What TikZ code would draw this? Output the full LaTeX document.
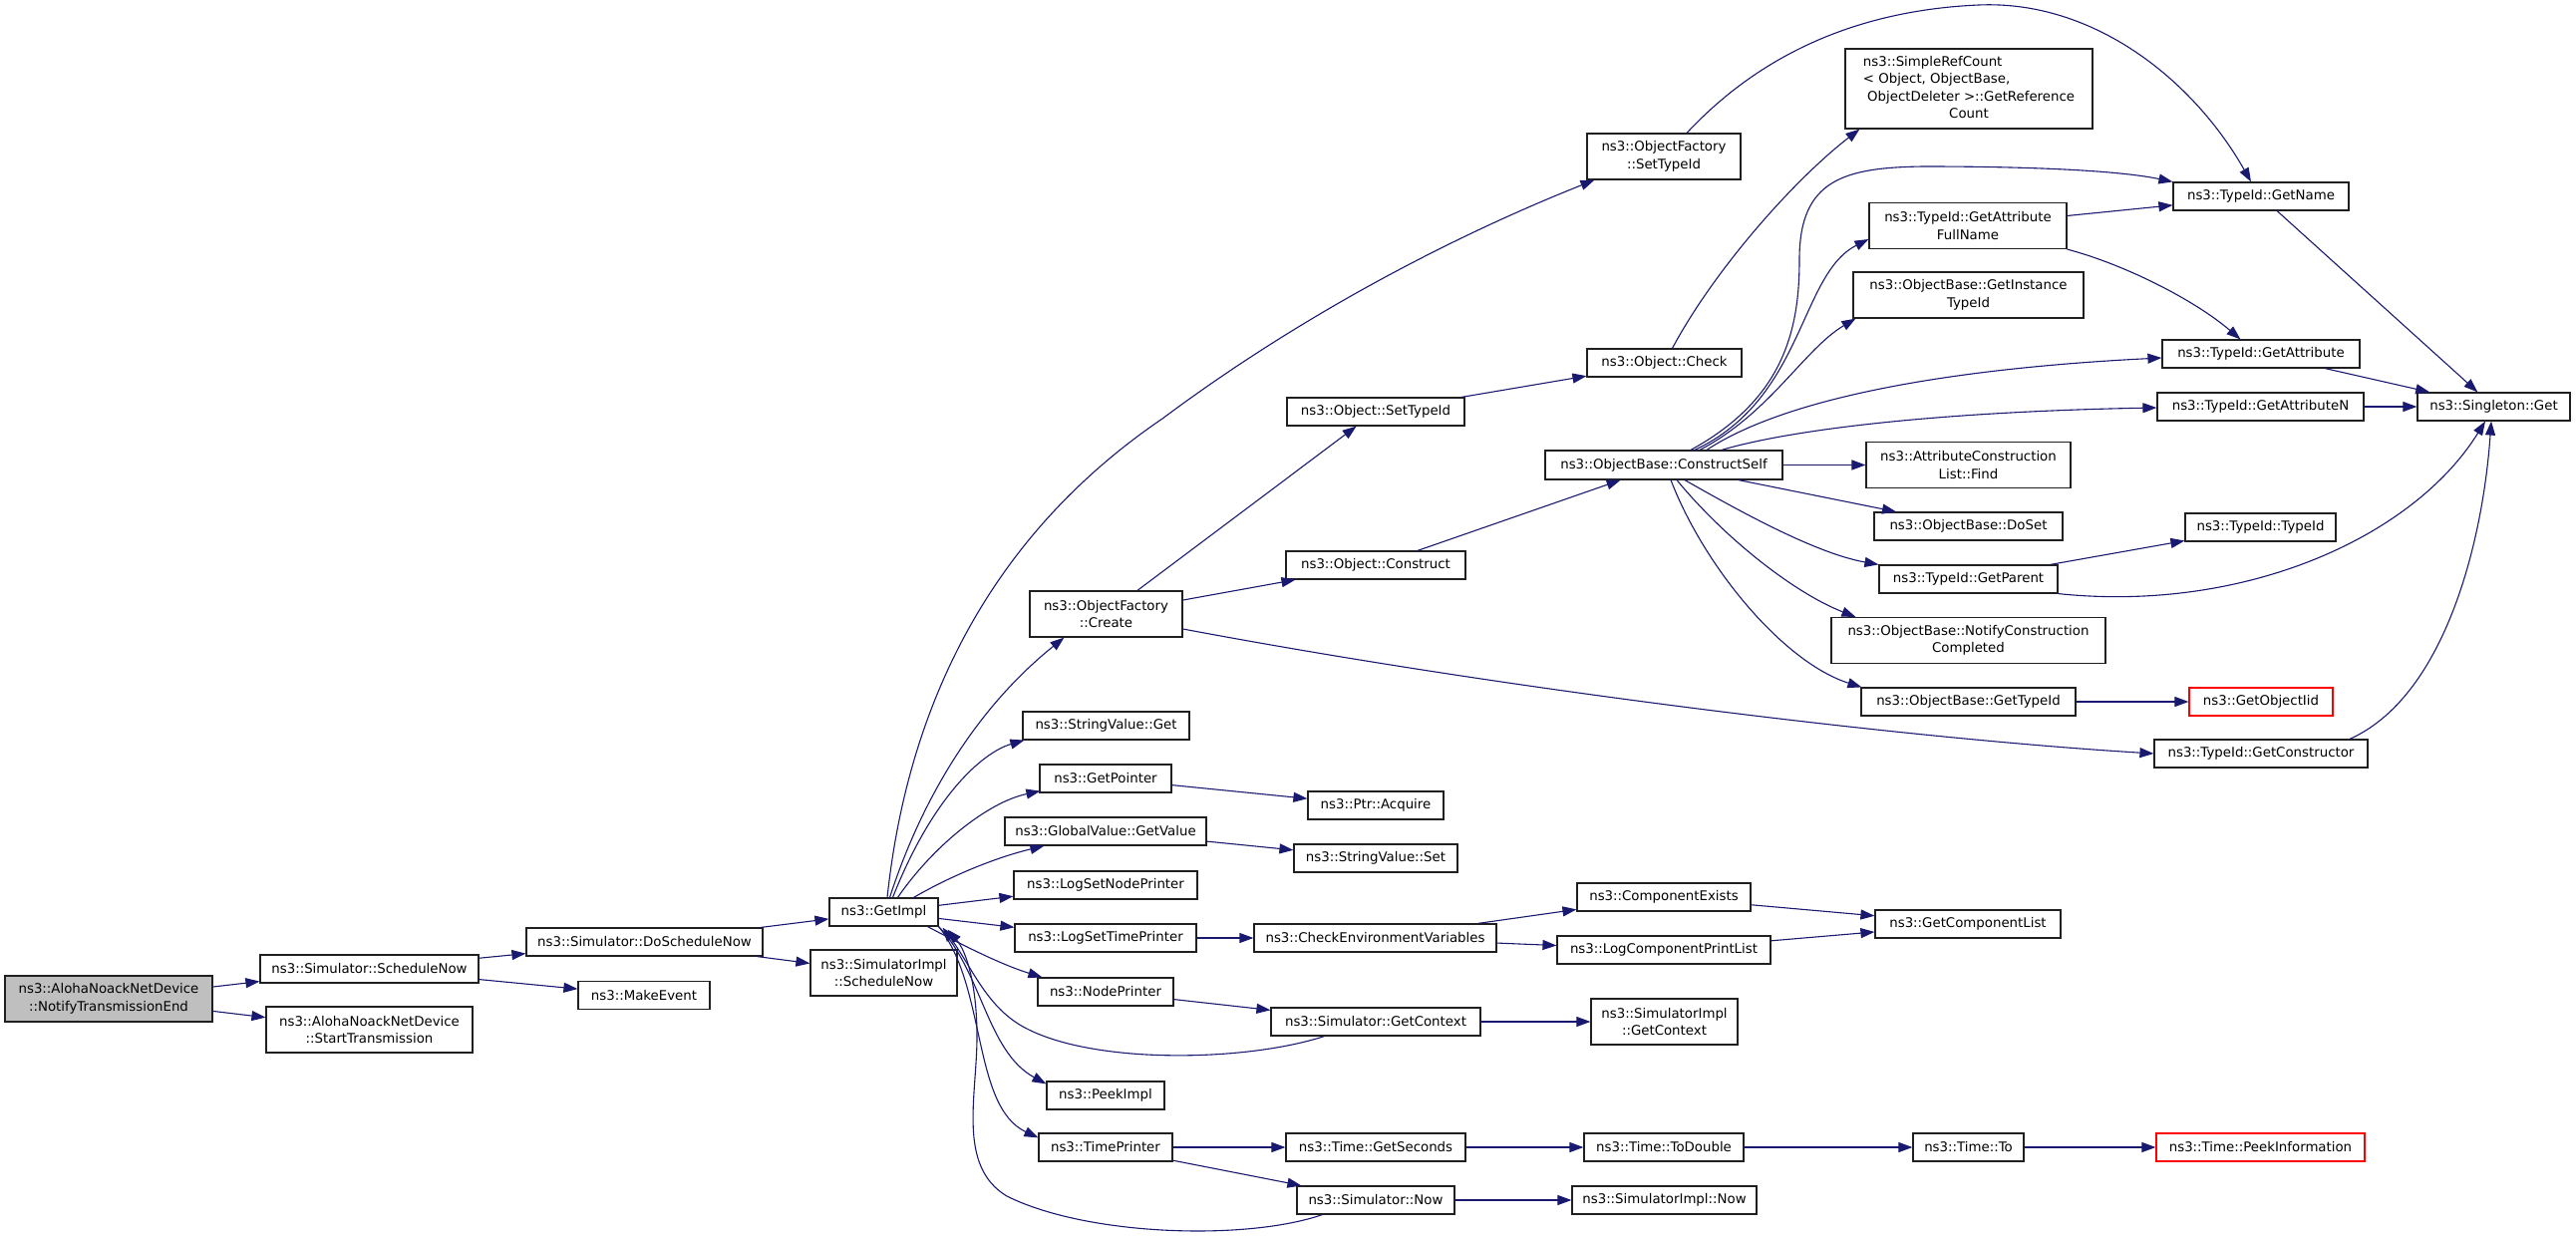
\documentclass[tikz,border=0pt]{standalone}
\usepackage{fontspec}
\newfontfamily\dgfont{DejaVu Sans}
\usetikzlibrary{arrows.meta}
\definecolor{edgeblue}{HTML}{191970}
\definecolor{rootgray}{HTML}{BFBFBF}
\definecolor{boxline}{HTML}{202020}
\newcommand\dgnodefont{\dgfont\fontsize{13.33pt}{17.5pt}\selectfont}
\tikzset{
  fn/.style={draw=boxline, fill=white, line width=1.2pt, inner sep=0pt, align=center,
             minimum height=28pt, font=\dgnodefont, text=black},
  root/.style={fill=rootgray},
  ext/.style={draw=red},
  call/.style={draw=edgeblue, line width=1.1pt, -{Triangle[length=14pt,width=10pt]}},
}
\begin{document}
\begin{tikzpicture}[x=1pt,y=-1pt]
\fill[white] (0,0) rectangle (2584,1241);
\useasboundingbox (0,0) rectangle (2584,1241);

% column 0-3
\node[fn,root,minimum width=208pt,minimum height=46pt] (nte) at (109,1002) {ns3::AlohaNoackNetDevice\\::NotifyTransmissionEnd};
\node[fn,minimum width=219pt] (sn) at (370.5,972) {ns3::Simulator::ScheduleNow};
\node[fn,minimum width=207pt,minimum height=46pt] (st) at (370.5,1033) {ns3::AlohaNoackNetDevice\\::StartTransmission};
\node[fn,minimum width=237pt] (dsn) at (646.5,945) {ns3::Simulator::DoScheduleNow};
\node[fn,minimum width=132pt] (me) at (646,998.5) {ns3::MakeEvent};
\node[fn,minimum width=109pt] (gi) at (886.5,915) {ns3::GetImpl};
\node[fn,minimum width=147pt,minimum height=46pt] (sisn) at (886.5,976) {ns3::SimulatorImpl\\::ScheduleNow};

% column 4
\node[fn,minimum width=153pt,minimum height=46pt] (ofc) at (1109.5,616) {ns3::ObjectFactory\\::Create};
\node[fn,minimum width=167pt] (svg) at (1109.5,728) {ns3::StringValue::Get};
\node[fn,minimum width=132pt] (gp) at (1109,781) {ns3::GetPointer};
\node[fn,minimum width=202pt] (gv) at (1109,834) {ns3::GlobalValue::GetValue};
\node[fn,minimum width=184pt] (lsnp) at (1109,888) {ns3::LogSetNodePrinter};
\node[fn,minimum width=182pt] (lstp) at (1109,941) {ns3::LogSetTimePrinter};
\node[fn,minimum width=136pt] (np) at (1109,995) {ns3::NodePrinter};
\node[fn,minimum width=118pt] (pi) at (1109,1099) {ns3::PeekImpl};
\node[fn,minimum width=134pt] (tp) at (1109,1151) {ns3::TimePrinter};

% column 5
\node[fn,minimum width=178pt] (oset) at (1380,413) {ns3::Object::SetTypeId};
\node[fn,minimum width=180pt] (ocon) at (1380,567) {ns3::Object::Construct};
\node[fn,minimum width=136pt] (pa) at (1380,808) {ns3::Ptr::Acquire};
\node[fn,minimum width=164pt] (svs) at (1380,861) {ns3::StringValue::Set};
\node[fn,minimum width=243pt] (cev) at (1379.5,941) {ns3::CheckEnvironmentVariables};
\node[fn,minimum width=210pt] (sgc) at (1380,1025) {ns3::Simulator::GetContext};
\node[fn,minimum width=180pt] (tgs) at (1380,1151) {ns3::Time::GetSeconds};
\node[fn,minimum width=158pt] (snow) at (1380,1204) {ns3::Simulator::Now};

% column 6
\node[fn,minimum width=154pt,minimum height=46pt] (ofs) at (1669,157) {ns3::ObjectFactory\\::SetTypeId};
\node[fn,minimum width=155pt] (ochk) at (1669.5,364) {ns3::Object::Check};
\node[fn,minimum width=238pt,minimum height=29pt] (cs) at (1669,466.5) {ns3::ObjectBase::ConstructSelf};
\node[fn,minimum width=174pt] (ce) at (1669,900) {ns3::ComponentExists};
\node[fn,minimum width=214pt] (lcpl) at (1669,953) {ns3::LogComponentPrintList};
\node[fn,minimum width=147pt,minimum height=46pt] (sigc) at (1669.5,1025) {ns3::SimulatorImpl\\::GetContext};
\node[fn,minimum width=160pt] (td) at (1669,1151) {ns3::Time::ToDouble};
\node[fn,minimum width=185pt] (sinow) at (1669.5,1204) {ns3::SimulatorImpl::Now};

% column 7
\node[fn,minimum width=248pt,minimum height=80pt] (src) at (1975,89)
  {\begin{tabular}{@{}l@{}}ns3::SimpleRefCount\\< Object, ObjectBase,\\\ ObjectDeleter >::GetReference\\\multicolumn{1}{@{}c@{}}{Count}\end{tabular}};
\node[fn,minimum width=198pt,minimum height=46pt] (gafn) at (1974,226.5) {ns3::TypeId::GetAttribute\\FullName};
\node[fn,minimum width=231pt,minimum height=46pt] (git) at (1974.5,296) {ns3::ObjectBase::GetInstance\\TypeId};
\node[fn,minimum width=205pt,minimum height=46pt] (acl) at (1974.5,466.5) {ns3::AttributeConstruction\\List::Find};
\node[fn,minimum width=189pt] (ds) at (1974.5,528) {ns3::ObjectBase::DoSet};
\node[fn,minimum width=179pt] (gpar) at (1974.5,581) {ns3::TypeId::GetParent};
\node[fn,minimum width=275pt,minimum height=46pt] (ncc) at (1974.5,642.5) {ns3::ObjectBase::NotifyConstruction\\Completed};
\node[fn,minimum width=215pt] (obgt) at (1974.5,704) {ns3::ObjectBase::GetTypeId};
\node[fn,minimum width=186pt] (gcl) at (1974,927) {ns3::GetComponentList};
\node[fn,minimum width=111pt] (tto) at (1974.5,1151) {ns3::Time::To};

% column 8
\node[fn,minimum width=176pt] (gn) at (2268,197) {ns3::TypeId::GetName};
\node[fn,minimum width=198pt] (ga) at (2268,355) {ns3::TypeId::GetAttribute};
\node[fn,minimum width=207pt] (gan) at (2267.5,408) {ns3::TypeId::GetAttributeN};
\node[fn,minimum width=151pt] (tid) at (2267.5,529) {ns3::TypeId::TypeId};
\node[fn,ext,minimum width=144pt] (goi) at (2268,704) {ns3::GetObjectIid};
\node[fn,minimum width=214pt] (gcon) at (2268,756) {ns3::TypeId::GetConstructor};
\node[fn,ext,minimum width=209pt] (tpi) at (2267.5,1151) {ns3::Time::PeekInformation};

% column 9
\node[fn,minimum width=153pt] (sg) at (2501.5,408) {ns3::Singleton::Get};

% ---------------- edges ----------------
\draw[call] (nte) -- (sn);
\draw[call] (nte) -- (st);
\draw[call] (sn) -- (dsn);
\draw[call] (sn) -- (me);
\draw[call] (dsn) -- (gi);
\draw[call] (dsn) -- (sisn);

\draw[call] ([xshift=3.5pt]gi.north) .. controls (905,760) and (960,560) .. (1166,420)
            .. controls (1300,320) and (1450,240) .. ([xshift=8pt]ofs.south west);
\draw[call] ([xshift=6pt]gi.north) .. controls (925,800) and (980,710) .. ([xshift=35pt]ofc.south west);
\draw[call] ([xshift=9pt]gi.north) .. controls (935,800) and (985,755) .. ([xshift=2pt]svg.south west);
\draw[call] ([xshift=14pt]gi.north) .. controls (935,850) and (990,805) .. ([xshift=1pt,yshift=2pt]gp.south west);
\draw[call] ([xshift=30pt]gi.north) .. controls (955,878) and (1000,860) .. ([xshift=40pt]gv.south west);
\draw[call] (gi) -- (lsnp);
\draw[call] (gi) -- (lstp);
\draw[call] ([xshift=-11pt]gi.south east) .. controls (965,948) and (1005,968) .. ([xshift=5pt]np.north west);
\draw[call] (gi.south east) .. controls (985,975) and (990,1055) .. ([yshift=-3pt]pi.north west);
\draw[call] (gi.south east) .. controls (990,990) and (975,1110) .. ([yshift=-5pt]tp.north west);
\draw[call] ([xshift=54pt]sgc.south west) .. controls (1250,1065) and (1100,1068) .. (1030,1032)
            .. controls (990,1012) and (975,970) .. ([xshift=4pt,yshift=-1pt]gi.south east);
\draw[call] ([xshift=26pt]snow.south west) .. controls (1250,1245) and (1090,1240) .. (1010,1200)
            .. controls (960,1170) and (980,1100) .. (980,1040)
            .. controls (980,990) and (970,955) .. ([xshift=9pt,yshift=-3pt]gi.south east);

\draw[call] (ofc) -- (oset);
\draw[call] (ofc) -- (ocon);
\draw[call] ([yshift=-15pt]ofc.east) .. controls (1500,690) and (1900,740) .. (gcon.west);
\draw[call] (oset) -- (ochk);
\draw[call] ([xshift=8pt]ochk.north) .. controls (1720,270) and (1800,180) .. ([xshift=15pt]src.south west);
\draw[call] (ocon) -- (cs);

\draw[call] ([xshift=27pt]cs.north) .. controls (1790,400) and (1805,330) .. (1805,260)
            .. controls (1805,180) and (1850,168) .. (1930,167)
            .. controls (2050,167) and (2130,172) .. (gn.north west);
\draw[call] ([xshift=31pt]cs.north) .. controls (1810,400) and (1805,275) .. ([yshift=-13.5pt]gafn.west);
\draw[call] ([xshift=36pt]cs.north) .. controls (1775,415) and (1810,350) .. ([xshift=3pt]git.south west);
\draw[call] ([xshift=43pt]cs.north) .. controls (1790,400) and (1950,370) .. ([yshift=-4pt]ga.west);
\draw[call] ([xshift=58pt]cs.north) .. controls (1800,430) and (1950,413) .. ([yshift=-1pt]gan.west);
\draw[call] (cs) -- (acl);
\draw[call] (cs) -- (ds);
\draw[call] ([xshift=21pt]cs.south) .. controls (1740,510) and (1820,555) .. (gpar.north west);
\draw[call] ([xshift=13pt]cs.south) .. controls (1730,540) and (1800,595) .. ([xshift=25pt]ncc.north west);
\draw[call] ([xshift=7pt]cs.south) .. controls (1710,570) and (1790,665) .. ([xshift=1pt]obgt.north west);

\draw[call] (gafn) -- (gn);
\draw[call] (gafn.south east) .. controls (2130,265) and (2200,300) .. ([xshift=79pt]ga.north west);
\draw[call] ([xshift=23pt]ofs.north) .. controls (1770,50) and (1870,10) .. (1985,5)
            .. controls (2100,0) and (2200,80) .. ([xshift=-10pt]gn.north);
\draw[call] (gn) -- (sg);
\draw[call] (ga) -- (sg);
\draw[call] (gan) -- (sg);
\draw[call] (gpar) -- (tid);
\draw[call] (gpar.south east) .. controls (2250,615) and (2420,540) .. ([xshift=-8.5pt]sg.south);
\draw[call] (obgt) -- (goi);
\draw[call] ([xshift=89pt]gcon.north) .. controls (2450,700) and (2490,550) .. ([xshift=-2.5pt]sg.south);

\draw[call] (gp) -- (pa);
\draw[call] (gv) -- (svs);
\draw[call] (lstp) -- (cev);
\draw[call] (cev) -- (ce);
\draw[call] (cev) -- (lcpl);
\draw[call] (ce) -- (gcl);
\draw[call] (lcpl) -- (gcl);
\draw[call] (np) -- (sgc);
\draw[call] (sgc) -- (sigc);
\draw[call] (tp) -- (tgs);
\draw[call] (tp) -- (snow);
\draw[call] (tgs) -- (td);
\draw[call] (td) -- (tto);
\draw[call] (tto) -- (tpi);
\draw[call] (snow) -- (sinow);
\end{tikzpicture}
\end{document}
